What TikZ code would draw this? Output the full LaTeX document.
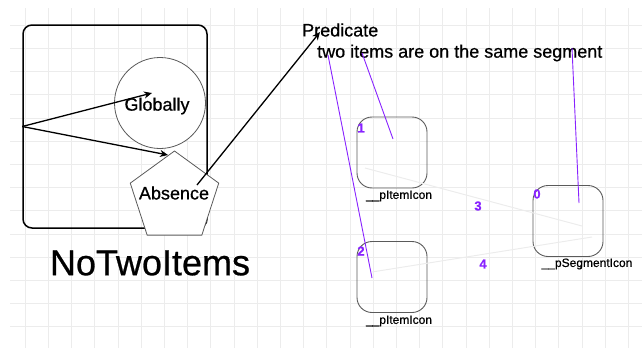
\documentclass[tikz,border=0pt]{standalone}
\usepackage{fontspec}
\setmainfont[FakeBold=0.7]{Liberation Sans}
\newfontfamily\numfont[FakeBold=0.8]{Liberation Sans Bold}
\usetikzlibrary{shapes.geometric,arrows.meta}
\definecolor{vio}{RGB}{136,34,255}
\definecolor{gridc}{RGB}{236,236,236}
\definecolor{boxc}{RGB}{90,90,90}
\tikzset{
  txt/.style={inner sep=0pt,font=\fontsize{18}{20}\selectfont},
  small/.style={inner sep=0pt,font=\fontsize{12}{14}\selectfont},
  num/.style={inner sep=0pt,text=vio,font=\fontsize{13}{15}\numfont},
  iconbox/.style={draw=boxc,line width=0.9pt,rounded corners=15pt,minimum width=70pt,minimum height=71pt,inner sep=0pt},
  blk/.style={draw=black,line width=1.3pt,-{Stealth[length=8pt,width=7pt,inset=2.5pt]}},
  vline/.style={draw=vio,line width=0.9pt},
  faint/.style={draw=gridc,line width=1pt}
}
\begin{document}
\begin{tikzpicture}[x=1pt,y=-1pt]
\useasboundingbox (0,0) rectangle (642,348);
% grid
\foreach \k in {0,...,26} {
  \draw[gridc,line width=1pt] ({25.2+23.2*\k},8) -- ({25.2+23.2*\k},348);
}
\foreach \k in {0,...,14} {
  \draw[gridc,line width=1pt] (10,{25.2+23.2*\k}) -- (642,{25.2+23.2*\k});
}
% container
\node[draw=black,line width=1.5pt,rounded corners=9pt,minimum width=184pt,minimum height=203pt,inner sep=0pt] (frame) at (115,126.5) {};
\node[circle,draw=boxc,fill=white,line width=0.8pt,minimum size=91pt,inner sep=0pt] (glob) at (160,103) {};
\node[txt] (globt) at (157,106) {Globally};
\node[regular polygon,regular polygon sides=5,draw=boxc,fill=white,line width=0.8pt,minimum size=93pt,inner sep=0pt] (abs) at (174.5,197.5) {};
\node[txt] (abst) at (174,193) {Absence};
\node[inner sep=0pt,font=\fontsize{36}{40}\selectfont] (title) at (150,263) {NoTwoItems};
% arrows
\coordinate (g1) at (152,93);
\coordinate (a1) at (168,155);
\coordinate (abc) at (197,185);
\coordinate (p1) at (320,32);
\draw[blk] (frame.west) -- (g1);
\draw[blk] (frame.west) -- (a1);
% predicate
\node[txt,anchor=west] (pred) at (302,30) {Predicate};
\node[txt,anchor=west] (predt) at (317,53) {two items are on the same segment};
\draw[blk] (abc) -- (p1);
% icon boxes
\node[iconbox] (b1) at (392,152.5) {};
\node[iconbox] (b2) at (392,277) {};
\node[iconbox] (b0) at (568,221) {};
\node[small] (l1) at (399,196) {\_\_pItemIcon};
\node[small] (l2) at (399,321) {\_\_pItemIcon};
\node[small] (l0) at (587,264) {\_\_pSegmentIcon};
\node[num] (n1) at (361,128) {1};
\node[num] (n2) at (361,251) {2};
\node[num] (n0) at (537,194) {0};
\node[num] (n3) at (478,206) {3};
\node[num] (n4) at (483,264) {4};
% faint connectors
\coordinate (f1s) at (365,168);
\coordinate (f1e) at (582,226);
\coordinate (f2s) at (372,272);
\coordinate (f2e) at (592,237);
\draw[faint] (f1s) -- (f1e);
\draw[faint] (f2s) -- (f2e);
% violet connectors
\coordinate (v1s) at (328,55);
\coordinate (v1e) at (372,278);
\coordinate (v2s) at (362,53);
\coordinate (v2e) at (393,139);
\coordinate (v3s) at (572,48);
\coordinate (v3e) at (579,203);
\draw[vline] (v1s) -- (v1e);
\draw[vline] (v2s) -- (v2e);
\draw[vline] (v3s) -- (v3e);
\end{tikzpicture}
\end{document}
